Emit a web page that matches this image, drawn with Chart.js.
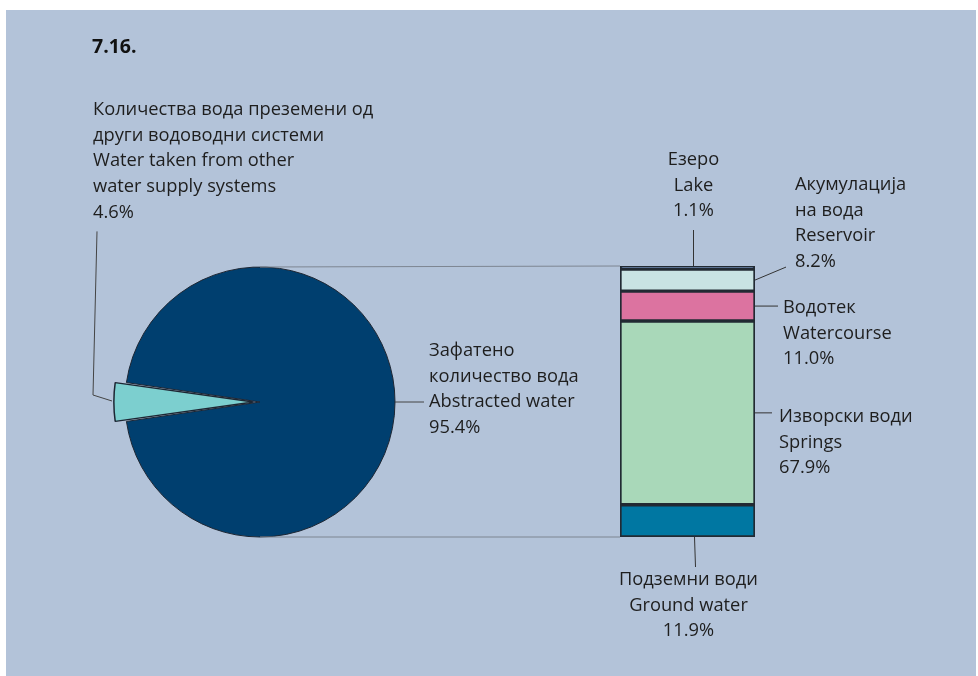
<!DOCTYPE html>
<html><head><meta charset="utf-8">
<script src="https://cdn.jsdelivr.net/npm/chart.js@4.4.0/dist/chart.umd.min.js"></script>
<style>
html,body{margin:0;padding:0;background:#fff;width:978px;height:676px;overflow:hidden}
#bg{position:absolute;left:6px;top:10px;width:970px;height:666px;background:#b3c3d9}
canvas{position:absolute;left:0;top:0}
</style></head><body>
<div id="bg"></div>
<canvas id="pie" width="978" height="676"></canvas>
<canvas id="bar" width="978" height="676"></canvas>
<script>
// ---- data ----
const chartTitle = '7.16.';
const pieCategories = ['Abstracted water', 'Water taken from other water supply systems'];
const pieValues = [95.4, 4.6];
const pieTexts = [
  ['Зафатено', 'количество вода', 'Abstracted water'],
  ['Количества вода преземени од', 'други водоводни системи', 'Water taken from other', 'water supply systems']
];
const barCategories = ['Ground water', 'Springs', 'Watercourse', 'Reservoir', 'Lake'];
const barValues = [11.9, 67.9, 11.0, 8.2, 1.1];
const barTexts = [
  ['Подземни води', 'Ground water'],
  ['Изворски води', 'Springs'],
  ['Водотек', 'Watercourse'],
  ['Акумулација', 'на вода', 'Reservoir'],
  ['Езеро', 'Lake']
];
// ---- styles ----
const pieColors = ['#003f6f', '#7ccfcf'];
const barColors = ['#0077a2', '#a9d8b9', '#dc73a0', '#c9e3e3', '#4e6e9e'];
const FONT = '18.3px "Open Sans", sans-serif';
const TXT = '#1e1e1e';
const LH = 25.6;
const EXPLODE = 26;

function fmt(v){ return v.toFixed(1) + '%'; }
function line(ctx, pts, color, w){
  ctx.save(); ctx.strokeStyle = color || '#333'; ctx.lineWidth = w || 1;
  ctx.beginPath(); ctx.moveTo(pts[0][0], pts[0][1]);
  for (let i=1;i<pts.length;i++) ctx.lineTo(pts[i][0], pts[i][1]);
  ctx.stroke(); ctx.restore();
}
function textLines(ctx, lines, x, y0, align){
  ctx.save(); ctx.font = FONT; ctx.fillStyle = TXT; ctx.textAlign = align || 'left'; ctx.textBaseline = 'middle';
  lines.forEach((t,i)=>ctx.fillText(t, x, y0 + i*LH));
  ctx.restore();
}

const pieDecor = {
  id: 'pieDecor',
  afterDraw(chart){
    const ctx = chart.ctx;
    // title
    ctx.save(); ctx.font = 'bold 19.5px "Open Sans", sans-serif'; ctx.fillStyle = '#111';
    ctx.textBaseline = 'alphabetic'; ctx.fillText(chartTitle, 92, 53); ctx.restore();
    const meta = chart.getDatasetMeta(0);
    const a0 = meta.data[0], a1 = meta.data[1];
    const cx = a0.x, cy = a0.y, r = a0.outerRadius;
    // big slice label (right side)
    line(ctx, [[cx + r, cy], [cx + r + 29, cy]], '#444');
    textLines(ctx, pieTexts[0].concat([fmt(pieValues[0])]), cx + r + 34, cy - 2*LH);
    // small slice label (upper left)
    const mid = (a1.startAngle + a1.endAngle)/2;
    const shift = a1.options.offset / 2;
    const ox = cx + Math.cos(mid)*(r + shift), oy = cy + Math.sin(mid)*(r + shift);
    const lines = pieTexts[1].concat([fmt(pieValues[1])]);
    const tx = 93, ty0 = 110;
    line(ctx, [[ox, oy - 1], [ox - 19, oy - 7], [ox - 15, ty0 + (lines.length-1)*LH + 19]], '#444');
    textLines(ctx, lines, tx, ty0);
  }
};

const rot = 270 - 360*(pieValues[0] + pieValues[1]/2)/100;
const pieChart = new Chart(document.getElementById('pie'), {
  type: 'pie',
  data: { labels: pieCategories, datasets: [{
    data: pieValues, backgroundColor: pieColors, borderColor: '#1d2633',
    borderWidth: [1, 1.5], offset: [0, EXPLODE]
  }]},
  options: {
    responsive: false, animation: false, rotation: rot, radius: 135,
    layout: { padding: { left: 110, right: 568, top: 252, bottom: 124 } },
    plugins: { legend: { display: false }, tooltip: { enabled: false } }
  },
  plugins: [pieDecor]
});

const barDecor = {
  id: 'barDecor',
  beforeDatasetsDraw(chart){
    const ctx = chart.ctx;
    const pm = pieChart.getDatasetMeta(0).data[0];
    const a = chart.chartArea;
    line(ctx, [[pm.x, pm.y - pm.outerRadius], [a.left, a.top]], '#7d8591');
    line(ctx, [[pm.x, pm.y + pm.outerRadius], [a.left, a.bottom]], '#7d8591');
  },
  afterDraw(chart){
    const ctx = chart.ctx;
    const els = barValues.map((v,i)=>chart.getDatasetMeta(i).data[0]);
    const right = els[0].x + els[0].width/2, cxb = els[0].x;
    const seg = els.map(e => ({top: Math.min(e.y, e.base), bot: Math.max(e.y, e.base)}));
    const midY = i => (seg[i].top + seg[i].bot)/2;
    // Ground water (below)
    line(ctx, [[cxb + 7, seg[0].bot], [cxb + 8, seg[0].bot + 30]], '#333');
    textLines(ctx, barTexts[0].concat([fmt(barValues[0])]), cxb + 1, seg[0].bot + 43, 'center');
    // Springs
    line(ctx, [[right, midY(1)], [right + 17, midY(1)]], '#333');
    textLines(ctx, barTexts[1].concat([fmt(barValues[1])]), right + 24, midY(1) + 4);
    // Watercourse
    line(ctx, [[right, midY(2)], [right + 23, midY(2)]], '#333');
    textLines(ctx, barTexts[2].concat([fmt(barValues[2])]), right + 28, midY(2) + 2);
    // Reservoir
    line(ctx, [[right, midY(3)], [right + 31, midY(3) - 13]], '#333');
    textLines(ctx, barTexts[3].concat([fmt(barValues[3])]), right + 40, midY(3) - 95);
    // Lake (above)
    line(ctx, [[cxb + 6, seg[4].top], [cxb + 6, seg[4].top - 36]], '#333');
    textLines(ctx, barTexts[4].concat([fmt(barValues[4])]), cxb + 6, seg[4].top - 106, 'center');
  }
};

const total = barValues.reduce((s,v)=>s+v, 0);
new Chart(document.getElementById('bar'), {
  type: 'bar',
  data: { labels: ['Abstracted water'], datasets: barValues.map((v,i)=>({
    label: barCategories[i], data: [v], backgroundColor: barColors[i],
    borderColor: '#222a33', borderWidth: 2, borderSkipped: false,
    barPercentage: 1, categoryPercentage: 1
  }))},
  options: {
    responsive: false, animation: false,
    layout: { padding: { left: 620, right: 978 - 755, top: 266, bottom: 676 - 537 } },
    scales: { x: { display: false, stacked: true }, y: { display: false, stacked: true, min: 0, max: total } },
    plugins: { legend: { display: false }, tooltip: { enabled: false } }
  },
  plugins: [barDecor]
});
</script>
</body></html>
